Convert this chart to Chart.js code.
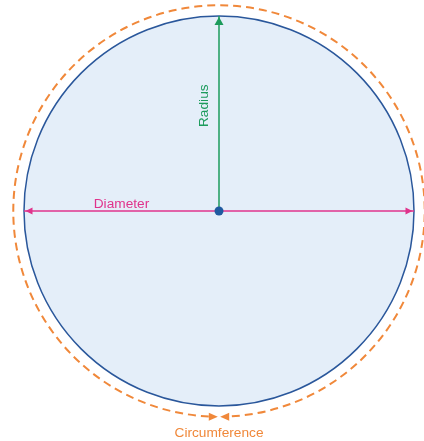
<!DOCTYPE html>
<html>
<head>
<meta charset="utf-8">
<script src="https://cdn.jsdelivr.net/npm/chart.js@4"></script>
<style>
  html, body { margin: 0; padding: 0; background: #fff; }
  .chart-container { position: relative; width: 424px; height: 441px; }
</style>
</head>
<body>
<div class="chart-container"><canvas id="circleChart"></canvas></div>
<script>
// circle in data units: radius 1 around the origin
const center = [0, 0];
const radius = 1;
const outerRadius = 1.055;
const labels = ['Radius', 'Diameter', 'Circumference'];
const radiusLine = [[0, 0], [0, 1]];
const diameterLine = [[-1, 0], [1, 0]];
const labelSpots = { radius: [0, 0.54], diameter: [-0.5, 0] };

// axis ranges so one unit is the same size on both axes
const xRange = [-1.1231, 1.0513];
const yRange = [-1.1795, 1.0821];

const colors = {
  fill: '#e4eef9',
  edge: '#2a579b',
  dot: '#1f5aa0',
  radius: '#1c9b5c',
  diameter: '#e0338c',
  circ: '#f0883a'
};

function arrowHead(ctx, tipX, tipY, dx, dy, len, half, color) {
  const bx = tipX - dx * len, by = tipY - dy * len;
  ctx.beginPath();
  ctx.moveTo(tipX, tipY);
  ctx.lineTo(bx - dy * half, by + dx * half);
  ctx.lineTo(bx + dy * half, by - dx * half);
  ctx.closePath();
  ctx.fillStyle = color;
  ctx.fill();
}

const circlePlugin = {
  id: 'circlePlugin',
  beforeDatasetsDraw(chart) {
    const { ctx, scales: { x, y } } = chart;
    const cx = x.getPixelForValue(center[0]);
    const cy = y.getPixelForValue(center[1]);
    const r = x.getPixelForValue(radius) - cx;
    const R = x.getPixelForValue(outerRadius) - cx;

    ctx.save();
    ctx.beginPath();
    ctx.arc(cx, cy, r, 0, Math.PI * 2);
    ctx.fillStyle = colors.fill;
    ctx.fill();
    ctx.lineWidth = 1.5;
    ctx.strokeStyle = colors.edge;
    ctx.stroke();

    // dashed circumference with two arrows meeting at the bottom
    const gap = 1.2 / R;
    const head = 9 / R;
    const aL = Math.PI / 2 + gap;
    const aR = Math.PI / 2 - gap + Math.PI * 2;
    ctx.beginPath();
    ctx.arc(cx, cy, R, aL + head, aR - head);
    ctx.setLineDash([8, 5]);
    ctx.lineWidth = 2;
    ctx.strokeStyle = colors.circ;
    ctx.stroke();
    ctx.setLineDash([]);
    arrowHead(ctx, cx + R * Math.cos(aL), cy + R * Math.sin(aL), Math.sin(aL), -Math.cos(aL), 9, 4, colors.circ);
    arrowHead(ctx, cx + R * Math.cos(aR), cy + R * Math.sin(aR), -Math.sin(aR), Math.cos(aR), 9, 4, colors.circ);
    ctx.restore();
  },
  afterDatasetsDraw(chart) {
    const { ctx, scales: { x, y } } = chart;
    const cx = x.getPixelForValue(center[0]);
    const cy = y.getPixelForValue(center[1]);
    const R = x.getPixelForValue(outerRadius) - cx;

    ctx.save();
    // arrow heads on the radius and diameter
    const top = y.getPixelForValue(radiusLine[1][1]);
    arrowHead(ctx, cx, top + 1, 0, -1, 8, 4.5, colors.radius);
    const left = x.getPixelForValue(diameterLine[0][0]);
    const right = x.getPixelForValue(diameterLine[1][0]);
    arrowHead(ctx, left + 1.5, cy, -1, 0, 7, 3.5, colors.diameter);
    arrowHead(ctx, right - 1.5, cy, 1, 0, 7, 3.5, colors.diameter);

    ctx.font = '13.7px "Liberation Sans", Arial, sans-serif';
    ctx.textAlign = 'center';
    ctx.textBaseline = 'alphabetic';

    ctx.save();
    ctx.translate(cx - 11.5, y.getPixelForValue(labelSpots.radius[1]));
    ctx.rotate(-Math.PI / 2);
    ctx.fillStyle = colors.radius;
    ctx.fillText(labels[0], 0, 0);
    ctx.restore();

    ctx.fillStyle = colors.diameter;
    ctx.fillText(labels[1], x.getPixelForValue(labelSpots.diameter[0]), y.getPixelForValue(labelSpots.diameter[1]) - 3);

    ctx.fillStyle = colors.circ;
    ctx.fillText(labels[2], cx, cy + R + 20);
    ctx.restore();
  }
};

const toPoints = arr => arr.map(([px, py]) => ({ x: px, y: py }));

new Chart(document.getElementById('circleChart').getContext('2d'), {
  type: 'scatter',
  data: {
    datasets: [
      {
        label: 'center',
        data: [{ x: center[0], y: center[1] }],
        pointRadius: 4.5,
        pointBackgroundColor: colors.dot,
        pointBorderWidth: 0
      },
      {
        label: labels[0],
        data: toPoints(radiusLine),
        showLine: true,
        borderColor: colors.radius,
        borderWidth: 1.5,
        pointRadius: 0
      },
      {
        label: labels[1],
        data: toPoints(diameterLine),
        showLine: true,
        borderColor: colors.diameter,
        borderWidth: 1.5,
        pointRadius: 0
      }
    ]
  },
  options: {
    responsive: true,
    maintainAspectRatio: false,
    animation: false,
    events: [],
    layout: { padding: 0, autoPadding: false },
    scales: {
      x: { type: 'linear', min: xRange[0], max: xRange[1], display: false },
      y: { type: 'linear', min: yRange[0], max: yRange[1], display: false }
    },
    plugins: { legend: { display: false }, tooltip: { enabled: false } },
    devicePixelRatio: 1
  },
  plugins: [circlePlugin]
});
</script>
</body>
</html>
